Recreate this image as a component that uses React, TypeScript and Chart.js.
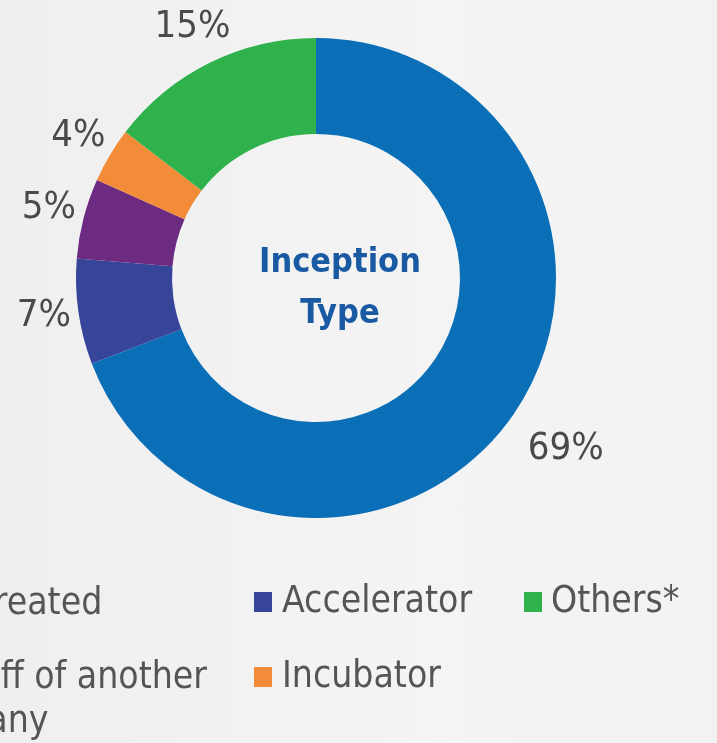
import React, { useEffect, useRef } from "react";
import { Chart, registerables } from "chart.js";

Chart.register(...registerables);

const categories = ["Self-created", "Accelerator", "Spin-off of another company", "Incubator", "Others*"];
const shares = [69.2, 7.1, 5.4, 3.7, 14.6];
const shareLabels = ["69%", "7%", "5%", "4%", "15%"];
const colors = ["#0b6fb8", "#36449a", "#6c2a80", "#f28c38", "#2fb24c"];
const centerLines = ["Inception", "Type"];

const FONT = "'Liberation Sans Narrow', 'DejaVu Sans Condensed', sans-serif";

const labelPlugin = {
  id: "outerLabels",
  afterDatasetsDraw(chart: any) {
    const ctx = chart.ctx;
    const meta = chart.getDatasetMeta(0);
    ctx.save();
    ctx.font = `38px ${FONT}`;
    ctx.fillStyle = "#4a4a4a";
    ctx.textAlign = "center";
    ctx.textBaseline = "alphabetic";
    const cap = 28;
    meta.data.forEach((arc: any, i: number) => {
      const p = arc.getProps(["x", "y", "startAngle", "endAngle", "outerRadius"], true);
      const mid = (p.startAngle + p.endAngle) / 2;
      const text = shareLabels[i];
      const w = ctx.measureText(text).width;
      const c = Math.cos(mid);
      const s = Math.sin(mid);
      const gap = c > 0 ? 24 : 6 + 12 * Math.max(0, -s - 0.6);
      const r = p.outerRadius + gap + (w / 2) * Math.abs(c) + (cap / 2) * Math.abs(s);
      ctx.fillText(text, p.x + r * c, p.y + r * s + cap / 2 - 5);
    });
    // center title
    const a = meta.data[0].getProps(["x", "y"], true);
    ctx.font = `bold 34px ${FONT}`;
    ctx.fillStyle = "#1a5aa3";
    ctx.textBaseline = "middle";
    ctx.fillText(centerLines[0], a.x + 24, a.y - 15);
    ctx.fillText(centerLines[1], a.x + 24, a.y + 36);
    ctx.restore();
  },
};

function twoLines(label: string) {
  return label.replace(/ (\S+)$/, "\n$1");
}

export default function App() {
  const ref = useRef<HTMLCanvasElement>(null);
  useEffect(() => {
    if (!ref.current) return;
    const chart = new Chart(ref.current, {
      type: "doughnut",
      data: {
        labels: categories,
        datasets: [
          {
            data: shares,
            backgroundColor: colors,
            borderWidth: 0,
          },
        ],
      },
      options: {
        animation: false,
        responsive: false,
        cutout: "60%",
        layout: { padding: { left: 76, right: 161, top: 38, bottom: 225 } },
        plugins: { legend: { display: false }, tooltip: { enabled: false } },
      },
      plugins: [labelPlugin],
    });
    return () => chart.destroy();
  }, []);

  const legendText: React.CSSProperties = {
    position: "absolute",
    fontFamily: FONT,
    fontSize: 37,
    color: "#555",
    lineHeight: "44px",
    whiteSpace: "pre",
  };
  const sq = (c: string, left: number, top: number): React.CSSProperties => ({
    position: "absolute",
    left,
    top,
    width: 18,
    height: 20,
    background: c,
  });

  return (
    <div
      style={{
        position: "fixed",
        left: 0,
        top: 0,
        width: 717,
        height: 743,
        overflow: "hidden",
        background: "linear-gradient(90deg, #efefef, #f4f4f4 60%, #f2f2f2)",
      }}
    >
      <canvas ref={ref} width={717} height={743} style={{ position: "absolute", left: 0, top: 0 }} />
      <div style={sq(colors[0], -130, 592)} />
      <div style={{ ...legendText, left: -97, top: 580 }}>{categories[0]}</div>
      <div style={sq(colors[2], -136, 667)} />
      <div style={{ ...legendText, left: -105, top: 654 }}>{twoLines(categories[2])}</div>
      <div style={sq(colors[1], 254, 592)} />
      <div style={{ ...legendText, left: 282, top: 578 }}>{categories[1]}</div>
      <div style={sq(colors[3], 254, 667)} />
      <div style={{ ...legendText, left: 282, top: 653 }}>{categories[3]}</div>
      <div style={sq(colors[4], 524, 592)} />
      <div style={{ ...legendText, left: 551, top: 578 }}>{categories[4]}</div>
    </div>
  );
}
